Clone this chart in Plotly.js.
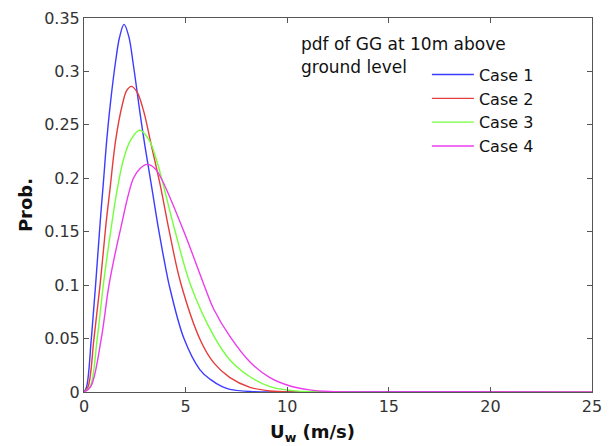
<!DOCTYPE html>
<html>
<head>
<meta charset="utf-8">
<script src="https://cdn.plot.ly/plotly-3.0.1.min.js"></script>
<style>html,body{margin:0;padding:0;background:#fff;}#chart{width:612px;height:446px;}</style>
</head>
<body>
<div id="chart"></div>
<script>
// Case 1
const case1X = [0, 0.13, 0.36, 0.57, 0.82, 0.95, 1.12, 1.31, 1.56, 1.75, 1.97, 2.2, 2.43, 2.75, 3.0, 3.33, 3.69, 4.03, 4.18, 4.92, 5.7, 6.2, 6.8, 7.18, 8.17, 9.5, 12, 25];
const case1Y = [0, 0.005, 0.05, 0.10, 0.165, 0.195, 0.236, 0.272, 0.310, 0.332, 0.344, 0.333, 0.306, 0.262, 0.230, 0.192, 0.150, 0.115, 0.101, 0.050, 0.021, 0.012, 0.005, 0.0025, 0.0005, 0, 0, 0];
// Case 2
const case2X = [0, 0.2, 0.49, 0.79, 1.07, 1.28, 1.56, 1.9, 2.1, 2.33, 2.6, 2.92, 3.3, 3.77, 4.18, 4.76, 5.74, 6.4, 7.18, 8.17, 9.15, 10.5, 25];
const case2Y = [0, 0.005, 0.05, 0.10, 0.155, 0.19, 0.236, 0.270, 0.282, 0.286, 0.281, 0.264, 0.232, 0.192, 0.152, 0.102, 0.048, 0.027, 0.0135, 0.0044, 0.001, 0, 0];
// Case 3
const case3X = [0, 0.3, 0.65, 0.95, 1.31, 1.64, 1.95, 2.3, 2.74, 3.2, 3.6, 3.9, 4.49, 5.25, 6.4, 7.18, 8.17, 9.15, 10.14, 11.5, 25];
const case3Y = [0, 0.005, 0.05, 0.10, 0.15, 0.19, 0.218, 0.236, 0.245, 0.236, 0.215, 0.194, 0.150, 0.100, 0.052, 0.030, 0.0143, 0.005, 0.0015, 0, 0];
// Case 4
const case4X = [0, 0.33, 0.85, 1.23, 1.77, 2.43, 2.75, 3.12, 3.5, 3.8, 4.92, 5.91, 6.4, 7.18, 8.17, 9.15, 10.14, 11.1, 12.1, 13.5, 25];
const case4Y = [0, 0.005, 0.05, 0.10, 0.15, 0.20, 0.209, 0.213, 0.209, 0.200, 0.150, 0.100, 0.077, 0.052, 0.028, 0.0134, 0.0056, 0.002, 0.0005, 0, 0];

const caseNames = ['Case 1', 'Case 2', 'Case 3', 'Case 4'];
const caseColors = ['#3c3cff', '#e53c3c', '#74ff3c', '#ec3cec'];
const xTicks = [0, 5, 10, 15, 20, 25];
const yTicks = [0, 0.05, 0.1, 0.15, 0.2, 0.25, 0.3, 0.35];
const yTickText = ['0', '0.05', '0.1', '0.15', '0.2', '0.25', '0.3', '0.35'];
const legendTitleLines = ['pdf of GG at 10m above', 'ground level'];
const xTitle = '<b>U<sub>w</sub> (m/s)</b>';
const yTitle = '<b>Prob.</b>';

const xs = [case1X, case2X, case3X, case4X];
const ys = [case1Y, case2Y, case3Y, case4Y];

const traces = xs.map((x, i) => ({
  x: x, y: ys[i], type: 'scatter', mode: 'lines', name: caseNames[i],
  line: {color: caseColors[i], width: 1.4, shape: 'spline', smoothing: 1},
  hoverinfo: 'skip'
}));

const font = 'DejaVu Sans, Liberation Sans, Arial, sans-serif';
const layout = {
  width: 612, height: 446,
  margin: {l: 84, r: 20, t: 18, b: 54},
  paper_bgcolor: '#fff', plot_bgcolor: '#fff',
  font: {family: font, color: '#222', size: 16},
  showlegend: true,
  legend: {
    x: 0.675, xanchor: 'left', y: 0.894, yanchor: 'top',
    bgcolor: 'rgba(0,0,0,0)', borderwidth: 0, itemwidth: 42,
    font: {family: font, size: 16, color: '#111'}
  },
  xaxis: {
    range: [0, 25], tickvals: xTicks, ticktext: xTicks.map(String),
    ticks: 'inside', ticklen: 5, tickcolor: '#555', showline: true, linecolor: '#555', linewidth: 1,
    mirror: 'ticks', showgrid: false, zeroline: false,
    tickfont: {family: font, size: 16, color: '#333'}
  },
  yaxis: {
    range: [0, 0.35], tickvals: yTicks, ticktext: yTickText,
    ticks: 'inside', ticklen: 5, tickcolor: '#555', showline: true, linecolor: '#555', linewidth: 1,
    mirror: 'ticks', showgrid: false, zeroline: false,
    tickfont: {family: font, size: 16, color: '#333'},
    title: {text: yTitle, font: {family: font, size: 18, color: '#111'}, standoff: 6}
  },
  annotations: [
    {xref: 'paper', yref: 'paper', x: 0.423, y: 0.930, xanchor: 'left', yanchor: 'middle',
     text: legendTitleLines[0], showarrow: false, font: {family: font, size: 17, color: '#111'}},
    {xref: 'paper', yref: 'paper', x: 0.423, y: 0.869, xanchor: 'left', yanchor: 'middle',
     text: legendTitleLines[1], showarrow: false, font: {family: font, size: 17, color: '#111'}},
    {xref: 'paper', yref: 'paper', x: 0.45, y: -0.11, xanchor: 'center', yanchor: 'middle',
     text: xTitle, showarrow: false, font: {family: font, size: 18, color: '#111'}}
  ]
};

Plotly.newPlot('chart', traces, layout, {displayModeBar: false, staticPlot: true});
</script>
</body>
</html>
